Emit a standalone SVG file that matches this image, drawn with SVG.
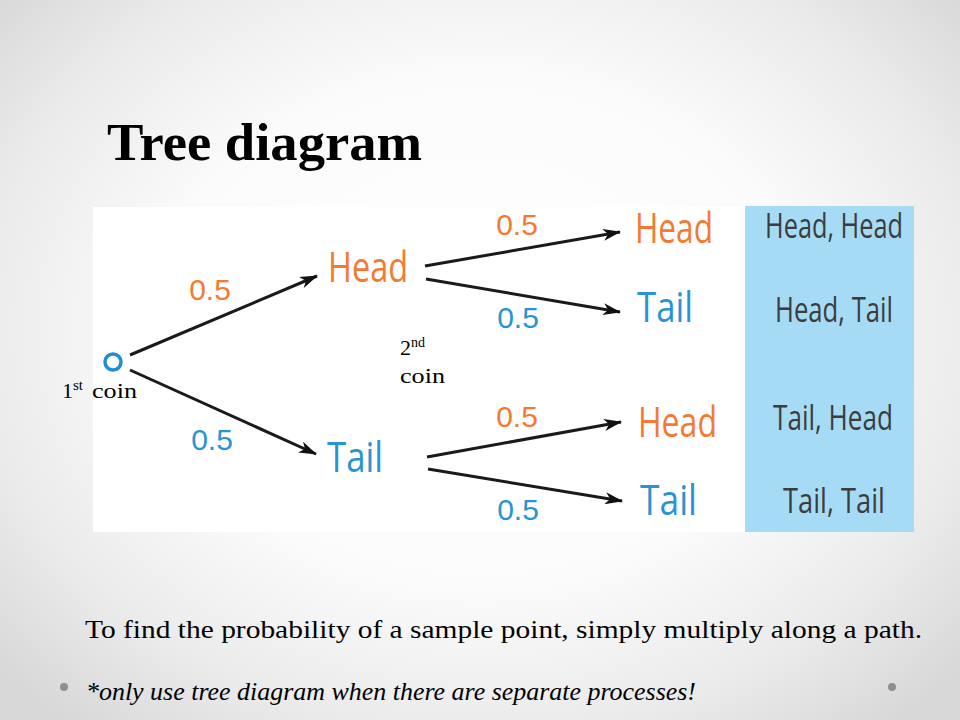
<svg xmlns="http://www.w3.org/2000/svg" width="960" height="720" viewBox="0 0 960 720">
<defs>
<radialGradient id="bg" cx="480" cy="330" r="640" gradientUnits="userSpaceOnUse" gradientTransform="translate(480 330) scale(1 0.8) translate(-480 -330)">
<stop offset="0" stop-color="#ffffff"/>
<stop offset="0.5" stop-color="#fbfbfb"/>
<stop offset="0.78" stop-color="#ebebeb"/>
<stop offset="1" stop-color="#d8d8d8"/>
</radialGradient>
<marker id="ah" viewBox="0 0 18 12" markerWidth="18" markerHeight="12" refX="17" refY="6" orient="auto" markerUnits="userSpaceOnUse">
<path d="M0,0 L18,6 L0,12 L5,6 z" fill="#111"/>
</marker>
</defs>
<style>
.arrow{stroke:#1a1a1a;stroke-width:3;fill:none;marker-end:url(#ah)}
.hand{font-family:"Open Sans","DejaVu Sans",sans-serif;font-size:42px}
.or{fill:#f47a33}
.bl{fill:#2a93d1}
.prob{font-family:"Liberation Sans",Arial,sans-serif;font-size:30px;text-anchor:middle}
.out{font-family:"Open Sans","DejaVu Sans",sans-serif;font-size:35px;fill:#3c3c3c}
.serif{font-family:"Liberation Serif","Times New Roman",serif;fill:#000}
</style>
<rect width="960" height="720" fill="url(#bg)"/>
<text class="serif" x="107" y="160" font-size="52" font-weight="bold" textLength="315" lengthAdjust="spacingAndGlyphs">Tree diagram</text>
<rect x="93" y="207" width="652" height="325" fill="#ffffff"/>
<rect x="745" y="206" width="169" height="326" fill="#a6dbf6"/>
<g id="connectors">
<line class="arrow" x1="130" y1="355" x2="317" y2="276"/>
<line class="arrow" x1="130" y1="370" x2="316" y2="454"/>
<line class="arrow" x1="425" y1="266" x2="620" y2="232"/>
<line class="arrow" x1="426" y1="279" x2="620" y2="312"/>
<line class="arrow" x1="427" y1="457" x2="621" y2="422"/>
<line class="arrow" x1="428" y1="469" x2="622" y2="501"/>
</g>
<g id="probs">
<text class="prob or" x="210" y="300">0.5</text>
<text class="prob bl" x="212" y="450">0.5</text>
<text class="prob or" x="517" y="235">0.5</text>
<text class="prob bl" x="518" y="328">0.5</text>
<text class="prob or" x="517" y="427">0.5</text>
<text class="prob bl" x="518" y="520">0.5</text>
</g>
<g id="root"><circle cx="113" cy="362" r="8" fill="none" stroke="#1f8fd0" stroke-width="3.5"/></g>
<g id="head1"><text class="hand or" x="328" y="282" textLength="80" lengthAdjust="spacingAndGlyphs">Head</text></g>
<g id="tail1"><text class="hand bl" x="327" y="472" textLength="56" lengthAdjust="spacingAndGlyphs">Tail</text></g>
<g id="hh"><text class="hand or" x="635" y="243" textLength="78" lengthAdjust="spacingAndGlyphs">Head</text></g>
<g id="ht"><text class="hand bl" x="637" y="322" textLength="56" lengthAdjust="spacingAndGlyphs">Tail</text></g>
<g id="th"><text class="hand or" x="638" y="437" textLength="79" lengthAdjust="spacingAndGlyphs">Head</text></g>
<g id="tt"><text class="hand bl" x="640" y="515" textLength="57" lengthAdjust="spacingAndGlyphs">Tail</text></g>
<g id="outcomes">
<text class="out" x="765" y="238" textLength="138" lengthAdjust="spacingAndGlyphs">Head, Head</text>
<text class="out" x="775" y="322" textLength="118" lengthAdjust="spacingAndGlyphs">Head, Tail</text>
<text class="out" x="773" y="430" textLength="120" lengthAdjust="spacingAndGlyphs">Tail, Head</text>
<text class="out" x="783" y="513" textLength="102" lengthAdjust="spacingAndGlyphs">Tail, Tail</text>
</g>
<g id="coin1">
<text class="serif" x="62" y="398" font-size="22">1<tspan font-size="15" dy="-8">st</tspan></text>
<text class="serif" x="92" y="398" font-size="21" textLength="45" lengthAdjust="spacingAndGlyphs">coin</text>
</g>
<g id="coin2">
<text class="serif" x="400" y="355" font-size="22">2<tspan font-size="14" dy="-8">nd</tspan></text>
<text class="serif" x="400" y="383" font-size="21" textLength="45" lengthAdjust="spacingAndGlyphs">coin</text>
</g>
<text class="serif" x="85" y="638" font-size="26" textLength="837" lengthAdjust="spacingAndGlyphs">To find the probability of a sample point, simply multiply along a path.</text>
<circle cx="64" cy="687" r="4" fill="#8f8f8f"/>
<circle cx="892" cy="687" r="4" fill="#8f8f8f"/>
<text class="serif" x="86" y="700" font-size="25" font-style="italic" textLength="610" lengthAdjust="spacingAndGlyphs">*only use tree diagram when there are separate processes!</text>
</svg>
